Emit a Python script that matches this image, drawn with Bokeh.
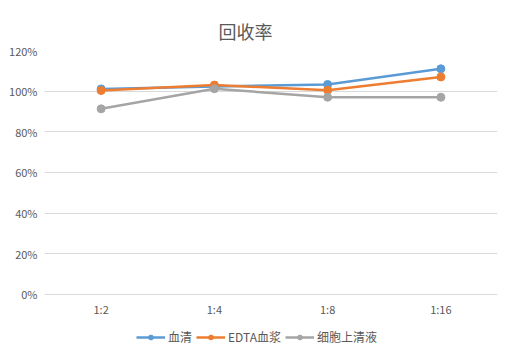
from bokeh.plotting import figure
from bokeh.models import NumeralTickFormatter, Legend, LegendItem, Range1d, FactorRange, FixedTicker
from bokeh.embed import file_html
from bokeh.resources import INLINE

categories = ["1:2", "1:4", "1:8", "1:16"]
serum = [1.011, 1.023, 1.033, 1.110]
edta = [1.003, 1.030, 1.005, 1.070]
supernatant = [0.913, 1.012, 0.970, 0.970]
series_names = ["血清", "EDTA血浆", "细胞上清液"]
colors = ["#5B9BD5", "#ED7D31", "#A5A5A5"]
yticks = [0, 0.2, 0.4, 0.6, 0.8, 1.0, 1.2]

FONT = "Noto Sans CJK SC"
TXT = "#595959"

p = figure(frame_width=453, frame_height=300, x_range=FactorRange(*categories),
           y_range=Range1d(-0.276, 1.2),
           output_backend="svg", toolbar_location=None,
           min_border_left=44, min_border_right=7, min_border_top=50, min_border_bottom=0)
p.title.text = "回收率"
p.title.align = "left"
p.title.offset = 174
p.title.standoff = 13
p.title.text_font = FONT
p.title.text_font_size = "18px"
p.title.text_font_style = "normal"
p.title.text_color = TXT
p.outline_line_color = None

p.yaxis.ticker = FixedTicker(ticks=yticks)
p.yaxis.formatter = NumeralTickFormatter(format="0%")
for ax in (p.xaxis[0], p.yaxis[0]):
    ax.axis_line_color = None
    ax.major_tick_line_color = None
    ax.minor_tick_line_color = None
    ax.major_tick_out = 0
    ax.major_tick_in = 0
    ax.major_label_text_font = FONT
    ax.major_label_text_font_size = "11px"
    ax.major_label_text_color = TXT
p.yaxis.major_label_standoff = 7
p.xaxis.major_label_standoff = 7
p.xaxis.fixed_location = 0
p.xgrid.grid_line_color = None
p.ygrid.grid_line_color = "#D9D9D9"
p.ygrid.grid_line_width = 1

items = []
for name, vals, c in zip(series_names, [serum, edta, supernatant], colors):
    l = p.line(x=categories, y=vals, line_color=c, line_width=2.5)
    s = p.scatter(x=categories, y=vals, size=8, fill_color=c, line_color=c)
    items.append(LegendItem(label=name, renderers=[l, s]))

legend = Legend(items=items, orientation="horizontal", location=(92, 5),
                label_text_font=FONT, label_text_font_size="12px", label_text_color=TXT,
                border_line_color=None, background_fill_alpha=0,
                glyph_width=29, glyph_height=12, label_height=12,
                spacing=4, label_standoff=3, padding=4, margin=0)
p.add_layout(legend, "center")

open("out.html", "w").write(file_html(p, INLINE))
